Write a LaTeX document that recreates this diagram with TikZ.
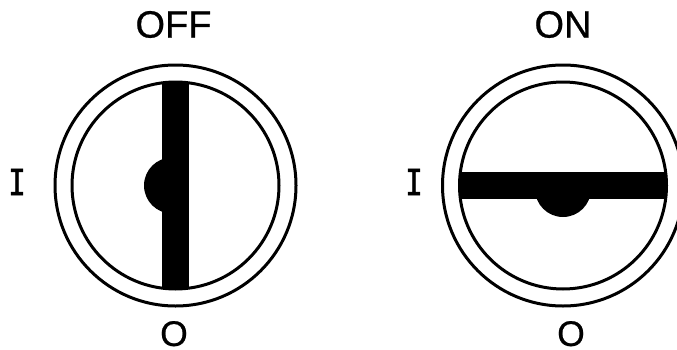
\documentclass[tikz,border=0pt]{standalone}
\usepackage{fontspec}
\newfontfamily\titlefont{Liberation Sans}[BoldFont=Liberation Sans,BoldFeatures={FakeBold=0.6}]
\newfontfamily\slabfont{DejaVu Sans Mono}[BoldFont=DejaVu Sans Mono,BoldFeatures={FakeBold=1.6}]
\begin{document}
\begin{tikzpicture}[
    x=1pt, y=1pt,
    ring/.style={draw=black, line width=3pt},
    blade/.style={fill=black},
    title/.style={font=\titlefont\bfseries\fontsize{38}{38}\selectfont, inner sep=0pt},
    ring label/.style={font=\titlefont\bfseries\fontsize{35.5}{36}\selectfont, inner sep=0pt},
    slab label/.style={font=\slabfont\bfseries\fontsize{36}{36}\selectfont, inner sep=0pt, xscale=0.8, transform shape}
]
\useasboundingbox (0,0) rectangle (677,349);
% OFF switch
\begin{scope}
\clip (130,100) rectangle (165,230);
\fill[blade] (172,163.5) circle (28);
\end{scope}
\begin{scope}
\clip (175.5,163.5) circle (104);
\fill[blade] (162,40) rectangle (189,300);
\end{scope}
\draw[ring] (175.5,163.5) circle (120.5);
\draw[ring] (175.5,163.5) circle (103.5);
% ON switch
\begin{scope}
\clip (500,120) rectangle (630,155);
\fill[blade] (563,160) circle (28);
\end{scope}
\begin{scope}
\clip (563,163.5) circle (104);
\fill[blade] (440,149.7) rectangle (690,177);
\end{scope}
\draw[ring] (563,163.5) circle (120.5);
\draw[ring] (563,163.5) circle (103.5);
% Labels
\node[title] (off) at (173.5,324.5) {OFF};
\node[title] (on) at (563,324.5) {ON};
\node[slab label] (offI) at (17,167) {I};
\node[slab label] (onI) at (414,167) {I};
\node[ring label] (offO) at (174,15.3) {O};
\node[ring label] (onO) at (571,15.3) {O};
\end{tikzpicture}
\end{document}
